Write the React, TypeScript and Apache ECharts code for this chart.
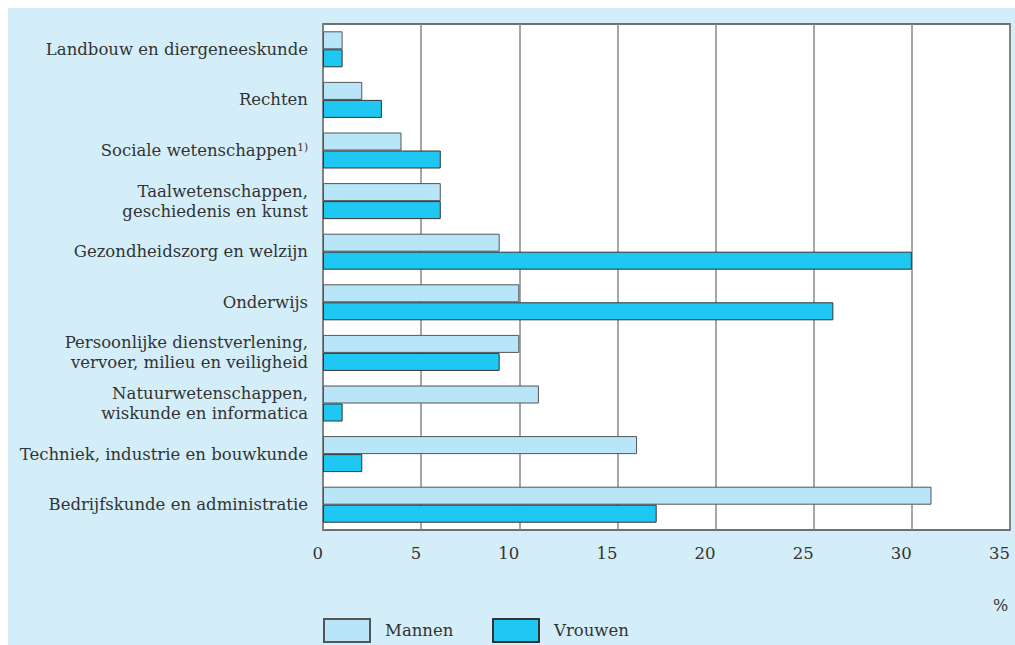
import React, { useEffect, useRef } from "react";
import * as echarts from "echarts";

const categories = [
  "Landbouw en diergeneeskunde",
  "Rechten",
  "Sociale wetenschappen",
  "Taalwetenschappen,\ngeschiedenis en kunst",
  "Gezondheidszorg en welzijn",
  "Onderwijs",
  "Persoonlijke dienstverlening,\nvervoer, milieu en veiligheid",
  "Natuurwetenschappen,\nwiskunde en informatica",
  "Techniek, industrie en bouwkunde",
  "Bedrijfskunde en administratie",
];
const mannen = [1, 2, 4, 6, 9, 10, 10, 11, 16, 31];
const vrouwen = [1, 3, 6, 6, 30, 26, 9, 1, 2, 17];
const xTicks = { min: 0, max: 35, interval: 5 };
const unitLabel = "%";

const FONT = "DejaVu Serif";
const TXT = "#333";

export default function App() {
  const ref = useRef<HTMLDivElement>(null);
  useEffect(() => {
    if (!ref.current) return;
    const chart = echarts.init(ref.current, undefined, { renderer: "svg" });
    const legendCommon = {
      orient: "horizontal",
      itemWidth: 46,
      itemHeight: 23,
      icon: "rect",
      textStyle: { fontFamily: FONT, fontSize: 16.5, color: TXT, padding: [6, 0, 0, 10] },
    };
    chart.setOption({
      animation: false,
      backgroundColor: "#d4eef9",
      textStyle: { fontFamily: FONT },
      grid: {
        left: 315,
        top: 16,
        right: 5,
        bottom: 115,
        show: true,
        backgroundColor: "#ffffff",
        borderColor: "#444",
        borderWidth: 1.5,
      },
      legend: [
        { ...legendCommon, left: 310, top: 605, data: ["Mannen"] },
        { ...legendCommon, left: 479, top: 605, data: ["Vrouwen"] },
      ],
      graphic: [
        {
          type: "text",
          left: 985,
          top: 589,
          style: { text: unitLabel, font: `16px "${FONT}"`, fill: TXT },
        },
      ],
      xAxis: {
        type: "value",
        min: xTicks.min,
        max: xTicks.max,
        interval: xTicks.interval,
        axisLine: { show: false },
        axisTick: { show: false },
        splitLine: { show: true, lineStyle: { color: "#888", width: 1.5 } },
        axisLabel: {
          color: TXT,
          fontFamily: FONT,
          fontSize: 16.5,
          margin: 15,
          align: "right",
        },
      },
      yAxis: {
        type: "category",
        data: categories,
        inverse: true,
        axisLine: { show: false },
        axisTick: { show: false },
        splitLine: { show: false },
        axisLabel: {
          color: TXT,
          fontFamily: FONT,
          fontSize: 16.5,
          lineHeight: 20,
          margin: 15,
          formatter: (v: string) =>
            v === "Sociale wetenschappen" ? "Sociale wetenschappen{sup|1)}" : v,
          rich: {
            sup: { fontSize: 10.5, fontFamily: FONT, color: TXT, padding: [0, 0, 7, 0] },
          },
        },
      },
      series: [
        {
          name: "Mannen",
          type: "bar",
          data: mannen,
          barWidth: 18,
          barGap: "0%",
          itemStyle: { color: "#b9e5f8", borderColor: "#555", borderWidth: 1 },
        },
        {
          name: "Vrouwen",
          type: "bar",
          data: vrouwen,
          barWidth: 18,
          barGap: "0%",
          itemStyle: { color: "#1ec8f2", borderColor: "#333", borderWidth: 1 },
        },
      ],
    });
    return () => chart.dispose();
  }, []);
  return (
    <div
      ref={ref}
      style={{ position: "fixed", left: 8, top: 8, width: 1007, height: 637 }}
    />
  );
}
